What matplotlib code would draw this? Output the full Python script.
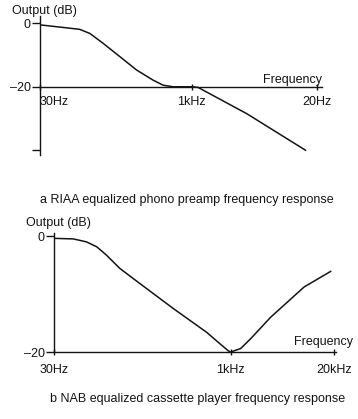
import numpy as np
import matplotlib.pyplot as plt

plt.rcParams['font.family'] = ['Liberation Sans', 'DejaVu Sans']

# a: RIAA equalized phono preamp response
riaa_freq = [30, 51, 75, 95, 129, 190, 279, 409, 516, 650, 1000, 1164, 3750, 15300]
riaa_db = [-0.5, -1.3, -1.9, -3.2, -6.3, -10.5, -14.7, -17.9, -19.5, -20.0, -20.0, -20.2, -28.5, -40.0]

# b: NAB equalized cassette player response
nab_freq = [30, 44, 57, 70, 85, 111, 165, 320, 620, 810, 954, 1000, 1336, 1786, 3184, 8375, 18100]
nab_db = [-0.4, -0.5, -1.0, -1.85, -3.3, -5.6, -8.2, -12.5, -16.6, -18.6, -19.8, -20.0, -19.4, -17.7, -14.0, -8.8, -6.1]

tick_freq = [30, 1000, 20000]
top_ticklabels = ['30Hz', '1kHz', '20Hz']
bot_ticklabels = ['30Hz', '1kHz', '20kHz']

W, H = 358, 419
INK = '#141414'


def make_scale(k):
    # log below 1 kHz, squeezed log above (as drawn in the book)
    a = np.log10(1000 / 30)
    b = np.log10(20)

    def fwd(f):
        lf = np.log10(np.clip(np.asarray(f, dtype=float), 1e-6, None))
        return np.where(lf <= 3, (lf - np.log10(30)) / a, 1 + (lf - 3) / b * k)

    def inv(p):
        p = np.asarray(p, dtype=float)
        return np.where(p <= 1, 30 * 10 ** (p * a), 1000 * 10 ** ((p - 1) * b / k))

    return fwd, inv


def box(x0, y0, x1, y1):
    return [x0 / W, 1 - y1 / H, (x1 - x0) / W, (y1 - y0) / H]


def ftext(x, y, s, **kw):
    fig.text(x / W, 1 - y / H, s, fontsize=9, color=INK, **kw)


def style(ax, xlabels, yticks, ylabels):
    for s in ['top', 'right']:
        ax.spines[s].set_visible(False)
    for s in ['left', 'bottom']:
        ax.spines[s].set_linewidth(1.0)
        ax.spines[s].set_color(INK)
    ax.set_xticks(tick_freq)
    ax.set_xticklabels(xlabels, fontsize=9, color=INK)
    ax.minorticks_off()
    ax.tick_params(axis='x', direction='inout', length=5, width=1.0, color=INK)
    ax.set_yticks(yticks)
    ax.set_yticklabels(ylabels, fontsize=9, color=INK)
    ax.tick_params(axis='y', direction='out', length=6, width=1.0, pad=0.5, color=INK)
    ax.patch.set_visible(False)


fig = plt.figure(figsize=(W / 100, H / 100), dpi=100)

# ---- a: RIAA
ax1 = fig.add_axes(box(40, 16, 322, 155))
ax1.set_xscale('function', functions=make_scale(0.824))
ax1.plot(riaa_freq, riaa_db, color=INK, lw=1.1)
ax1.set_xlim(30, 22700)
ax1.set_ylim(-41.5, 2.3)
ax1.spines['bottom'].set_position(('data', -20))
style(ax1, top_ticklabels, [0, -20, -40], ['0', '\u201320', ''])
ax1.tick_params(axis='x', pad=4)
ax1.get_xticklabels()[0].set_horizontalalignment('left')

ftext(12, 14, 'Output (dB)', va='baseline')
ftext(322, 83.5, 'Frequency', ha='right', va='baseline')
ftext(40, 202.5, 'a RIAA equalized phono preamp frequency response', va='baseline')

# ---- b: NAB
ax2 = fig.add_axes(box(54, 233.3, 336, 352))
ax2.set_xscale('function', functions=make_scale(0.585))
ax2.plot(nab_freq, nab_db, color=INK, lw=1.1)
ax2.set_xlim(30, 21150)
ax2.set_ylim(-20, 0.47)
style(ax2, bot_ticklabels, [0, -20], ['0', '\u201320'])
ax2.tick_params(axis='x', pad=6)

ftext(26, 225.5, 'Output (dB)', va='baseline')
ftext(353, 345.5, 'Frequency', ha='right', va='baseline')
ftext(50, 402, 'b NAB equalized cassette player frequency response', va='baseline')

fig.savefig('out.png', dpi=100)
